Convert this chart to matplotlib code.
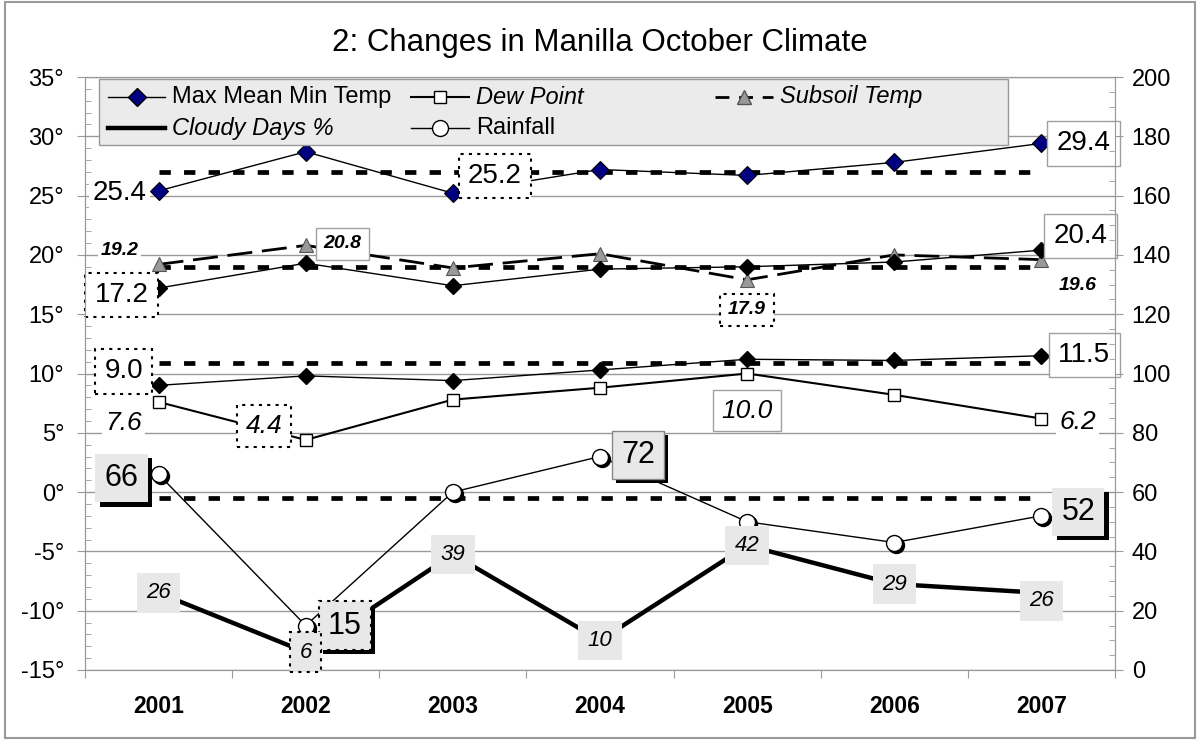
import matplotlib
matplotlib.use("Agg")
import matplotlib.pyplot as plt
import matplotlib.patheffects as pe
import matplotlib.transforms as mtrans
from matplotlib.lines import Line2D
from matplotlib.patches import Rectangle
from matplotlib.ticker import MultipleLocator, FixedLocator, FuncFormatter, NullFormatter

plt.rcParams["font.family"] = ["Liberation Sans", "DejaVu Sans"]

# ---- data ----
years = ["2001", "2002", "2003", "2004", "2005", "2006", "2007"]
max_temp = [25.4, 28.7, 25.2, 27.2, 26.7, 27.8, 29.4]
mean_temp = [17.2, 19.3, 17.4, 18.8, 19.0, 19.4, 20.4]
min_temp = [9.0, 9.8, 9.4, 10.3, 11.2, 11.1, 11.5]
dew_point = [7.6, 4.4, 7.8, 8.8, 10.0, 8.2, 6.2]
subsoil = [19.2, 20.8, 18.9, 20.1, 17.9, 20.0, 19.6]
rainfall = [66, 15, 60, 72, 50, 43, 52]          # right axis
cloudy = [26, 6, 39, 10, 42, 29, 26]             # right axis, %
avg_max, avg_mean, avg_min = 27.0, 19.0, 10.9
avg_rain = 58

x = list(range(1, len(years) + 1))
W, H = 1200, 747
PT = 72 / 100            # pixels -> points at dpi 100

fig = plt.figure(figsize=(W / 100, H / 100), dpi=100)
ax = fig.add_axes([85 / W, 1 - 670 / H, 1030 / W, 593 / H])
ax2 = ax.twinx()

GRID = "#999999"
ax.set_xlim(0.5, len(years) + 0.5)
ax.set_ylim(-15, 35)
ax2.set_ylim(0, 200)
ax.yaxis.set_major_locator(MultipleLocator(5))
ax.yaxis.set_minor_locator(MultipleLocator(1))
ax.yaxis.set_major_formatter(FuncFormatter(lambda v, p: f"{int(round(v))}\u00b0"))
ax2.yaxis.set_major_locator(MultipleLocator(20))
ax2.yaxis.set_minor_locator(MultipleLocator(5))
ax.grid(axis="y", which="major", color=GRID, lw=1, zorder=0)
ax.set_axisbelow(True)

ax.xaxis.set_major_locator(FixedLocator([i + 0.5 for i in range(0, len(years) + 1)]))
ax.xaxis.set_major_formatter(NullFormatter())
ax.xaxis.set_minor_locator(FixedLocator(x))
ax.xaxis.set_minor_formatter(FuncFormatter(lambda v, p: years[int(round(v)) - 1]))
ax.tick_params(axis="x", which="major", direction="out", length=6, color=GRID)
ax.tick_params(axis="x", which="minor", length=0, pad=18, labelsize=16.5)
for t in ax.xaxis.get_minorticklabels():
    t.set_fontweight("bold")
ax.tick_params(axis="y", which="major", direction="out", length=6, color=GRID, pad=9, labelsize=17)
ax.tick_params(axis="y", which="minor", direction="in", length=4, color=GRID)
ax2.tick_params(axis="y", which="major", direction="out", length=6, color=GRID, pad=6, labelsize=17)
ax2.tick_params(axis="y", which="minor", direction="in", length=4, color=GRID)
for a in (ax, ax2):
    for s in a.spines.values():
        s.set_color(GRID)

# ---- average lines ----
avg_style = dict(color="black", lw=3.4, ls=(0, (2.4, 2.8)), zorder=2)
ax.plot([x[0], x[-1]], [avg_max, avg_max], **avg_style)
ax.plot([x[0], x[-1]], [avg_mean, avg_mean], **avg_style)
ax.plot([x[0], x[-1]], [avg_min, avg_min], **avg_style)
ax2.plot([x[0], x[-1]], [avg_rain, avg_rain], **avg_style)

# ---- temperature series (left axis) ----
ax.plot(x, subsoil, color="black", lw=2, ls=(0, (9, 3.5)), marker="^", ms=10.5,
        mfc="#999999", mec="#555555", mew=0.8, zorder=3)
ax.plot(x, max_temp, color="black", lw=1, marker="D", ms=9, mfc="#000080", mec="black", mew=0.8, zorder=4)
ax.plot(x, mean_temp, color="black", lw=1, marker="D", ms=8, mfc="black", mec="black", zorder=4)
ax.plot(x, min_temp, color="black", lw=1, marker="D", ms=8, mfc="black", mec="black", zorder=4)
ax.plot(x, dew_point, color="black", lw=1.5, marker="s", ms=9, mfc="white", mec="black", mew=1, zorder=4)

# ---- rainfall & cloudy (right axis) ----
ax2.plot(x, cloudy, color="black", lw=3.2, zorder=3)
shadow_tr = mtrans.offset_copy(ax2.transData, fig=fig, x=2, y=-2, units="dots")
ax2.plot(x, rainfall, color="black", lw=1, zorder=4)
ax2.plot(x, rainfall, ls="none", marker="o", ms=11.5, mfc="black", mec="black", transform=shadow_tr, zorder=4)
ax2.plot(x, rainfall, ls="none", marker="o", ms=11.5, mfc="white", mec="black", mew=1, zorder=5)

# ---- data labels ----
SOLID = dict(boxstyle="square,pad=0.33", fc="white", ec="#a0a0a0", lw=1)
DOTTED = dict(boxstyle="square,pad=0.33", fc="white", ec="black", lw=1.5, ls=(0, (1.5, 2.5)))
WHITE = dict(boxstyle="square,pad=0.12", fc="white", ec="none")
GRAYB = dict(boxstyle="square,pad=0.42", fc="#e8e8e8", ec="none")
SHAD = dict(boxstyle="square,pad=0.3", fc="#e8e8e8", ec="none")
SHAD_DOT = dict(boxstyle="square,pad=0.3", fc="#e8e8e8", ec="black", lw=1.5, ls=(0, (1.5, 2.5)))
SHAD_LINE = dict(boxstyle="square,pad=0.3", fc="#e8e8e8", ec="#888888", lw=1)


def tag(a, series, i, dx, dy, size, box=None, style="normal", weight="normal", fmt="{:.1f}", shadow=False):
    t = a.annotate(fmt.format(series[i]), (x[i], series[i]), xytext=(dx * PT, -dy * PT),
                   textcoords="offset points", ha="center", va="center", fontsize=size,
                   fontstyle=style, fontweight=weight, bbox=box, zorder=8, annotation_clip=False)
    if shadow:
        t.get_bbox_patch().set_path_effects(
            [pe.withSimplePatchShadow(offset=(3, -3), shadow_rgbFace="black", alpha=1.0)])
    return t


tag(ax, max_temp, 0, -39, 2, 20, WHITE)
tag(ax, max_temp, 2, 42, -17, 20, DOTTED)
tag(ax, max_temp, 6, 42, 0, 20, SOLID)
tag(ax, mean_temp, 0, -37, 7, 20, DOTTED)
tag(ax, mean_temp, 6, 39, -14, 20, SOLID)
tag(ax, min_temp, 0, -35, -14, 20, DOTTED)
tag(ax, min_temp, 6, 43, -1, 20, SOLID)
tag(ax, dew_point, 0, -35, 21, 19, WHITE, style="italic")
tag(ax, dew_point, 1, -42, -14, 19, DOTTED, style="italic")
tag(ax, dew_point, 4, 0, 37, 19, SOLID, style="italic")
tag(ax, dew_point, 6, 36, 3, 19, WHITE, style="italic")
tag(ax, subsoil, 0, -39, -14, 14, WHITE, style="italic", weight="bold")
tag(ax, subsoil, 1, 37, -1.5, 14, dict(SOLID, boxstyle="square,pad=0.4"), style="italic", weight="bold")
tag(ax, subsoil, 4, 0, 30, 14, dict(DOTTED, boxstyle="square,pad=0.4"), style="italic", weight="bold")
tag(ax, subsoil, 6, 36, 26, 14, None, style="italic", weight="bold")

tag(ax2, rainfall, 0, -37, 4, 22, SHAD, fmt="{:d}", shadow=True)
tag(ax2, rainfall, 1, 39, 0, 22, SHAD_DOT, fmt="{:d}", shadow=True)
tag(ax2, rainfall, 3, 38, -1.5, 22, SHAD_LINE, fmt="{:d}", shadow=True)
tag(ax2, rainfall, 6, 37, -4, 22, SHAD, fmt="{:d}", shadow=True)

for i in range(len(years)):
    box = dict(GRAYB, ec="black", lw=1.5, ls=(0, (1.5, 2.5))) if i == 1 else GRAYB
    tag(ax2, cloudy, i, 0, 8 if i == 6 else 0, 16, box, style="italic", fmt="{:d}")

# ---- legend (drawn at figure level, pixel layout of the reference) ----
def fx(p):
    return p / W


def fy(p):
    return 1 - p / H


fig.add_artist(Rectangle((fx(99), fy(145)), fx(1008) - fx(99), fy(79) - fy(145),
                         transform=fig.transFigure, fc="#ebebeb", ec="#999999", lw=1, zorder=10))
entries = [
    (108, 165, 97, dict(color="black", lw=1), dict(marker="D", ms=9, mfc="#000080", mec="black"),
     "Max Mean Min Temp", "normal"),
    (108, 165, 128, dict(color="black", lw=3.2), None, "Cloudy Days %", "italic"),
    (411, 469, 97, dict(color="black", lw=1.5), dict(marker="s", ms=9, mfc="white", mec="black"),
     "Dew Point", "italic"),
    (411, 469, 128, dict(color="black", lw=1), dict(marker="o", ms=11.5, mfc="white", mec="black"),
     "Rainfall", "normal"),
    (715, 773, 97, dict(color="black", lw=2, ls=(0, (5, 3.5))),
     dict(marker="^", ms=10.5, mfc="#999999", mec="#555555"), "Subsoil Temp", "italic"),
]
for x0, x1, yy, lkw, mkw, label, style in entries:
    fig.add_artist(Line2D([fx(x0), fx(x1)], [fy(yy), fy(yy)], transform=fig.transFigure, zorder=11, **lkw))
    if mkw:
        fig.add_artist(Line2D([fx((x0 + x1) / 2)], [fy(yy)], transform=fig.transFigure, ls="none",
                              zorder=12, **mkw))
    fig.text(fx(x1 + 7), fy(yy), label, fontsize=17, fontstyle=style, ha="left", va="center", zorder=12)

fig.text(0.5, fy(43), "2: Changes in Manilla October Climate", fontsize=22.5, ha="center", va="center")
fig.add_artist(Rectangle((fx(5), fy(738)), fx(1195) - fx(5), fy(2) - fy(738),
                         transform=fig.transFigure, fill=False, ec="#999999", lw=1.5, zorder=0))

fig.savefig("out.png", dpi=100)
